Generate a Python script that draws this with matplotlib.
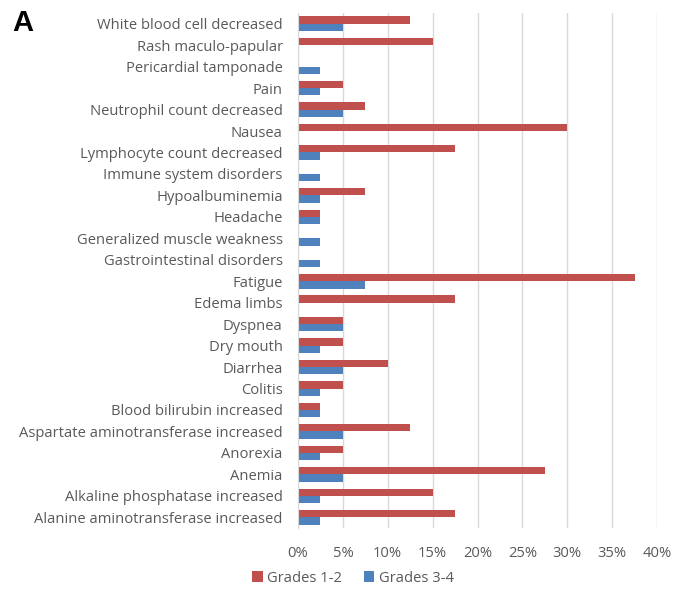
import matplotlib
matplotlib.use("Agg")
import matplotlib.pyplot as plt
import numpy as np
from matplotlib.ticker import PercentFormatter

categories = [
    "Alanine aminotransferase increased",
    "Alkaline phosphatase increased",
    "Anemia",
    "Anorexia",
    "Aspartate aminotransferase increased",
    "Blood bilirubin increased",
    "Colitis",
    "Diarrhea",
    "Dry mouth",
    "Dyspnea",
    "Edema limbs",
    "Fatigue",
    "Gastrointestinal disorders",
    "Generalized muscle weakness",
    "Headache",
    "Hypoalbuminemia",
    "Immune system disorders",
    "Lymphocyte count decreased",
    "Nausea",
    "Neutrophil count decreased",
    "Pain",
    "Pericardial tamponade",
    "Rash maculo-papular",
    "White blood cell decreased",
]
grades_1_2 = [17.5, 15, 27.5, 5, 12.5, 2.5, 5, 10, 5, 5, 17.5, 37.5, 0, 0, 2.5, 7.5, 0, 17.5, 30, 7.5, 5, 0, 15, 12.5]
grades_3_4 = [2.5, 2.5, 5, 2.5, 5, 2.5, 2.5, 5, 2.5, 5, 0, 7.5, 2.5, 2.5, 2.5, 2.5, 2.5, 2.5, 0, 5, 2.5, 2.5, 0, 5]
xticks = [0, 5, 10, 15, 20, 25, 30, 35, 40]

plt.rcParams['font.family'] = ['Open Sans', 'DejaVu Sans']

fig = plt.figure(figsize=(6.86, 5.98), dpi=100)
ax = fig.add_axes([298/686, 1-528/598, (657-298)/686, (528-13)/598])

y = np.arange(len(categories))
h = 0.34
red = "#C0504D"
blue = "#4F81BD"
ax.barh(y + h/2, grades_1_2, height=h, color=red, label="Grades 1-2", zorder=3)
ax.barh(y - h/2, grades_3_4, height=h, color=blue, label="Grades 3-4", zorder=3)

ax.set_xlim(0, 40)
ax.set_ylim(-0.5, len(categories) - 0.5)
ax.set_xticks(xticks)
ax.xaxis.set_major_formatter(PercentFormatter(decimals=0))
ax.set_yticks(y)
ax.set_yticklabels(categories)
ax.tick_params(axis='both', length=0, labelcolor="#595959", labelsize=10.6)
ax.tick_params(axis='y', pad=11)
ax.tick_params(axis='x', pad=13)
ax.grid(axis='x', color="#D9D9D9", linewidth=1, zorder=0)
for s in ['top', 'right', 'bottom']:
    ax.spines[s].set_visible(False)
ax.spines['left'].set_color("#D9D9D9")
ax.spines['left'].set_zorder(4)

leg = fig.legend(loc='center', bbox_to_anchor=(353/686, 1-578/598), ncol=2, frameon=False,
                 fontsize=10.6, handlelength=0.7, handleheight=0.7, handletextpad=0.3, columnspacing=1.5)
for t in leg.get_texts():
    t.set_color("#595959")

fig.text(12/686, 1-23/598, "A", fontsize=21, fontweight='bold', family='Liberation Sans', va='center', ha='left')

fig.savefig("out.png", dpi=100)
